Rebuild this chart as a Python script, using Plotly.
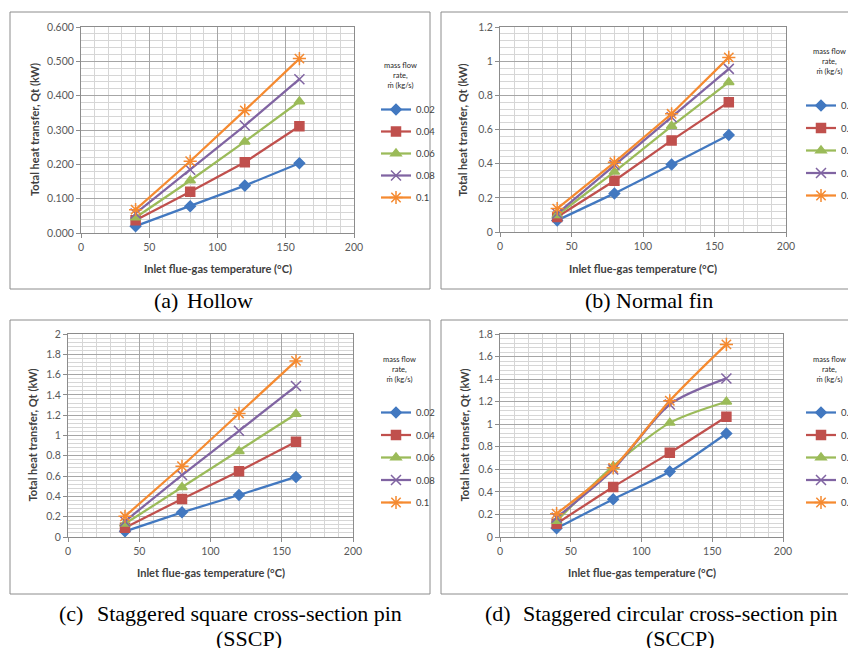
import plotly.graph_objects as go

# ---------------- data ----------------
temps = [40, 80, 120, 160]
flow_labels = ["0.02", "0.04", "0.06", "0.08", "0.1"]

hollow = [
    [0.020, 0.078, 0.138, 0.203],
    [0.037, 0.120, 0.206, 0.311],
    [0.045, 0.153, 0.266, 0.383],
    [0.057, 0.184, 0.313, 0.448],
    [0.068, 0.209, 0.357, 0.508],
]
normal_fin = [
    [0.068, 0.226, 0.395, 0.568],
    [0.088, 0.300, 0.536, 0.760],
    [0.098, 0.352, 0.620, 0.877],
    [0.108, 0.392, 0.672, 0.955],
    [0.137, 0.408, 0.692, 1.022],
]
sscp = [
    [0.056, 0.243, 0.414, 0.592],
    [0.092, 0.375, 0.648, 0.938],
    [0.130, 0.490, 0.845, 1.212],
    [0.155, 0.610, 1.046, 1.487],
    [0.204, 0.697, 1.217, 1.735],
]
sccp = [
    [0.077, 0.335, 0.580, 0.918],
    [0.118, 0.444, 0.746, 1.066],
    [0.142, 0.628, 1.012, 1.199],
    [0.172, 0.598, 1.175, 1.406],
    [0.207, 0.613, 1.208, 1.708],
]

x_ticks = [0, 50, 100, 150, 200]
y_ticks_a = [0.0, 0.1, 0.2, 0.3, 0.4, 0.5, 0.6]
y_ticktext_a = ["0.000", "0.100", "0.200", "0.300", "0.400", "0.500", "0.600"]
y_ticks_b = [0, 0.2, 0.4, 0.6, 0.8, 1.0, 1.2]
y_ticks_c = [0, 0.2, 0.4, 0.6, 0.8, 1.0, 1.2, 1.4, 1.6, 1.8, 2.0]
y_ticks_d = [0, 0.2, 0.4, 0.6, 0.8, 1.0, 1.2, 1.4, 1.6, 1.8]

caption_labels = ["(a)", "(b)", "(c)", "(d)"]
caption_lines = [["Hollow"], ["Normal fin"],
                 ["Staggered square cross-section pin", "(SSCP)"],
                 ["Staggered circular cross-section pin", "(SCCP)"]]

y_title = "Total heat transfer, Qt (kW)"
x_title = "Inlet flue-gas temperature (°C)"
legend_title = "mass flow<br>rate,<br>ṁ (kg/s)"

# ---------------- style ----------------
W, H = 848, 648
colors = ["#4278C0", "#C0504D", "#9BBB59", "#8064A2", "#F58A30"]
symbols = ["diamond", "square", "triangle-up", "x-thin-open", "asterisk-open"]
msizes = [8, 9, 9, 10, 11]
FONT = "Lato"
CAPFONT = "Liberation Serif"


def fx(p):
    return p / W


def fy(p):
    return 1 - p / H


panels = [
    dict(data=hollow, yt=y_ticks_a, ytt=y_ticktext_a, ymax=0.6, ydt=0.1,
         plot=(81, 354, 27, 233), box=(10, 430, 12, 289),
         leg=(376, 95), legt=(400, 76), gap=3,
         ytx=34, xty=268, spline=False,
         cap=dict(lab=152, mode="left", x=185, ys=[300])),
    dict(data=normal_fin, yt=y_ticks_b, ytt=None, ymax=1.2, ydt=0.2,
         plot=(500, 786, 27, 232), box=(441, 870, 12, 289),
         leg=(801, 91), legt=(829, 62), gap=3.5,
         ytx=462, xty=268, spline=False,
         cap=dict(lab=583, mode="left", x=614, ys=[300])),
    dict(data=sscp, yt=y_ticks_c, ytt=None, ymax=2.0, ydt=0.2,
         plot=(68, 353, 334, 537), box=(10, 430, 320, 594),
         leg=(376, 398), legt=(399, 369), gap=3.5,
         ytx=32, xty=572, spline=False,
         cap=dict(lab=57, mode="center", x=249, ys=[613, 638])),
    dict(data=sccp, yt=y_ticks_d, ytt=None, ymax=1.8, ydt=0.2,
         plot=(500, 783, 334, 537), box=(441, 870, 320, 594),
         leg=(801, 398), legt=(829, 369), gap=3.5,
         ytx=464, xty=572, spline=True,
         cap=dict(lab=483, mode="center", x=680, ys=[613, 638])),
]

fig = go.Figure()
shapes = []
annotations = []
layout = dict(width=W, height=H, margin=dict(l=0, r=0, t=0, b=0, autoexpand=False),
              paper_bgcolor="white", plot_bgcolor="white", showlegend=True,
              font=dict(family=FONT, color="#404040"))

for i, p in enumerate(panels):
    sfx = "" if i == 0 else str(i + 1)
    xa, ya = "x" + sfx, "y" + sfx
    lg = "legend" + sfx
    x0, x1, y0, y1 = p["plot"]
    for j, lab in enumerate(flow_labels):
        fig.add_trace(go.Scatter(
            x=temps, y=p["data"][j], name=lab, xaxis=xa, yaxis=ya, legend=lg,
            legendgroup=f"p{i}s{j}",
            mode="lines+markers",
            line=dict(color=colors[j], width=2.25,
                      shape="spline" if p["spline"] else "linear", smoothing=0.8),
            marker=dict(symbol=symbols[j], size=msizes[j], color=colors[j],
                        line=dict(color=colors[j], width=1.5)),
        ))
    common = dict(showline=True, linecolor="#8C8C8C", linewidth=1, mirror=True,
                  ticks="outside", ticklen=4, tickcolor="#8C8C8C",
                  showgrid=True, gridcolor="#A6A6A6", gridwidth=1,
                  zeroline=False,
                  tickfont=dict(family=FONT, size=10.5, color="#595959"),
                  minor=dict(showgrid=True, gridcolor="#D6D6D6", gridwidth=1))
    layout["xaxis" + sfx] = dict(common, domain=[fx(x0), fx(x1)], anchor=ya,
                                 range=[0, 200], tickvals=x_ticks,
                                 minor=dict(common["minor"], dtick=10, tick0=0))
    yax = dict(common, domain=[fy(y1), fy(y0)], anchor=xa,
               range=[0, p["ymax"]], tickvals=p["yt"],
               minor=dict(common["minor"], dtick=p["ydt"] / 5, tick0=0))
    if p["ytt"] is not None:
        yax["ticktext"] = p["ytt"]
    layout["yaxis" + sfx] = yax
    layout[lg] = dict(x=fx(p["leg"][0]), y=fy(p["leg"][1]), xanchor="left", yanchor="top",
                      bgcolor="rgba(0,0,0,0)", borderwidth=0,
                      font=dict(family=FONT, size=9.5, color="#404040"),
                      tracegroupgap=p["gap"], traceorder="grouped", itemwidth=30)
    annotations.append(dict(text=legend_title, xref="paper", yref="paper",
                            x=fx(p["legt"][0]), y=fy(p["legt"][1]),
                            showarrow=False, xanchor="center", yanchor="middle",
                            align="center",
                            font=dict(family=FONT, size=7.5, color="#262626")))
    bx0, bx1, by0, by1 = p["box"]
    shapes.append(dict(type="rect", xref="paper", yref="paper",
                       x0=fx(bx0), x1=fx(bx1), y0=fy(by1), y1=fy(by0),
                       line=dict(color="#8C8C8C", width=1), fillcolor="rgba(0,0,0,0)"))
    annotations.append(dict(text="<b>" + y_title + "</b>", xref="paper", yref="paper",
                            x=fx(p["ytx"]), y=fy((y0 + y1) / 2), textangle=-90,
                            showarrow=False, xanchor="center", yanchor="middle",
                            font=dict(family=FONT, size=11, color="#404040")))
    annotations.append(dict(text="<b>" + x_title + "</b>", xref="paper", yref="paper",
                            x=fx((x0 + x1) / 2), y=fy(p["xty"]),
                            showarrow=False, xanchor="center", yanchor="middle",
                            font=dict(family=FONT, size=11, color="#404040")))
    c = p["cap"]
    capfont = dict(family=CAPFONT, size=22, color="black")
    annotations.append(dict(text=caption_labels[i], xref="paper", yref="paper",
                            x=fx(c["lab"]), y=fy(c["ys"][0]), showarrow=False,
                            xanchor="left", yanchor="middle", font=capfont))
    for line, yy in zip(caption_lines[i], c["ys"]):
        annotations.append(dict(text=line, xref="paper", yref="paper",
                                x=fx(c["x"]), y=fy(yy), showarrow=False,
                                xanchor=c["mode"], yanchor="middle", font=capfont))

layout["shapes"] = shapes
layout["annotations"] = annotations
fig.update_layout(**layout)
fig.write_html("out.html", config={"displayModeBar": False},
               post_script="document.body.style.margin='0';document.body.style.overflow='hidden';")
